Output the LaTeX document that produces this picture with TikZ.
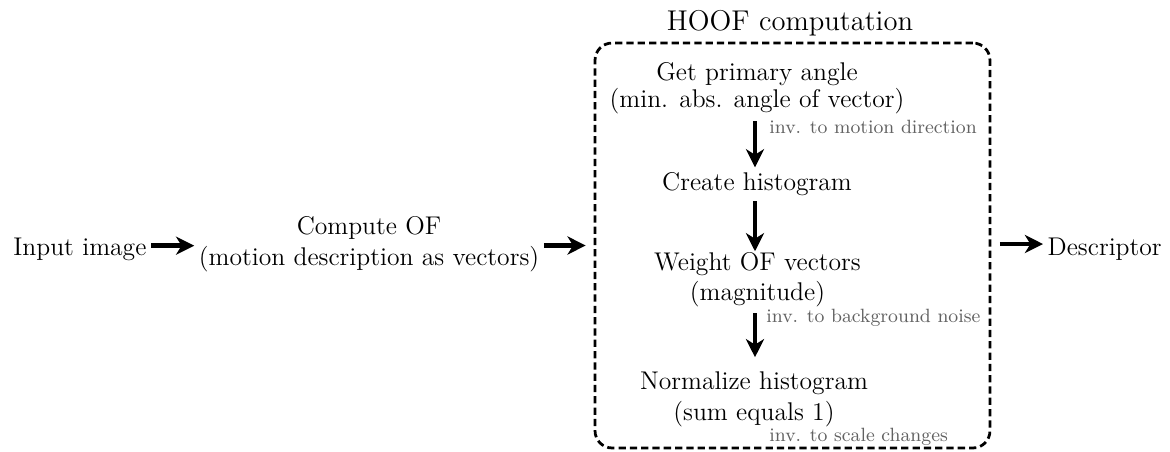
\documentclass[tikz,border=0pt]{standalone}
\usetikzlibrary{arrows.meta}
\begin{document}
\begin{tikzpicture}[x=0.4687pt,y=-0.4687pt,
  every node/.style={inner sep=2pt},
  txt/.style={font=\fontsize{12}{14.2}\selectfont, align=center, anchor=base},
  note/.style={font=\fontsize{9}{11}\selectfont, text=black!62, anchor=base west},
  arr/.style={line width=2.1pt, -{Stealth[length=8.5pt,width=8.5pt,inset=2.6pt]}},
  frame/.style={draw, line width=1.3pt, dash pattern=on 3.4pt off 1.9pt,
    rounded corners=8pt, minimum width=185.1pt, minimum height=189.8pt}]
\useasboundingbox (0,0) rectangle (1170,451);

% pipeline blocks (multi-line nodes are placed by their last baseline)
\node[txt, anchor=base west] (input) at (8.7,255) {Input image};
\node[txt] (compute) at (369,265) {Compute OF\\(motion description as vectors)};
\node[frame] (hoof) at (792.5,245.5) {};
\node[txt, font=\fontsize{13.4}{16}\selectfont] (title) at (790,30) {HOOF computation};
\node[txt, anchor=base west] (desc) at (1043,255) {Descriptor};

% steps inside the HOOF frame
\node[txt, font=\fontsize{12}{12.4}\selectfont] (angle) at (757,107) {Get primary angle\\(min. abs. angle of vector)};
\node[txt] (hist) at (757,190) {Create histogram};
\node[txt, font=\fontsize{12}{13.6}\selectfont] (weight) at (757.5,300) {Weight OF vectors\\(magnitude)};
\node[txt] (norm) at (754,420) {Normalize histogram\\(sum equals 1)};

% invariance notes
\node[note] (inv1) at (764.7,133) {inv. to motion direction};
\node[note] (inv2) at (761.7,322) {inv. to background noise};
\node[note] (inv3) at (764.7,441) {inv. to scale changes};

% horizontal flow
\draw[arr] ([yshift=1.5pt]input.east) -- ([yshift=1.5pt]input.east -| compute.west);
\draw[arr, shorten >=3.75pt] (compute.east |- hoof.west) -- (hoof.west);
\draw[arr, shorten <=4pt] ([yshift=0.7pt]hoof.east) -- ([yshift=0.7pt]hoof.east -| desc.west);

% vertical flow
\draw[arr, shorten <=1.5pt] (angle.south -| 755,0) -- (hist.north -| 755,0);
\draw[arr, shorten <=0.5pt, shorten >=-1.4pt] (hist.south -| 755,0) -- (weight.north -| 755,0);
\draw[arr, shorten <=1pt, shorten >=4.7pt] (weight.south -| 755,0) -- (norm.north -| 755,0);
\end{tikzpicture}
\end{document}
